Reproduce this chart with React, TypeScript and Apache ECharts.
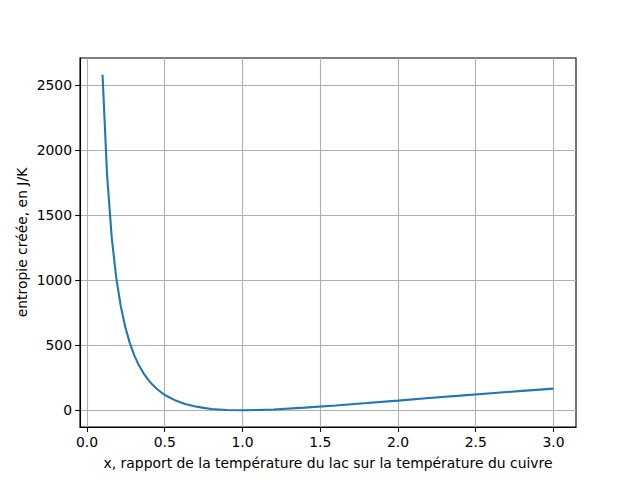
import React, { useEffect, useRef } from "react";
import * as echarts from "echarts";

const xValues = [0.1, 0.129, 0.159, 0.188, 0.217, 0.246, 0.276, 0.305, 0.334, 0.364, 0.393, 0.422, 0.452, 0.481, 0.51, 0.57, 0.63, 0.69, 0.75, 0.8, 0.9, 1.0, 1.1, 1.2, 1.4, 1.6, 1.8, 2.0, 2.2, 2.4, 2.6, 2.8, 3.0];
const entropyValues = [2578, 1811, 1328, 1019, 801, 640, 514, 420, 345, 284, 235, 195, 161, 134, 111, 74, 48, 30, 18, 10, 2, 0, 2, 6, 20, 37, 55, 74, 94, 112, 131, 149, 166];
const xTicks = [0, 0.5, 1.0, 1.5, 2.0, 2.5, 3.0];
const yTicks = [0, 500, 1000, 1500, 2000, 2500];
const xLabel = "x, rapport de la température du lac sur la température du cuivre";
const yLabel = "entropie créée, en J/K";

const FONT = "DejaVu Sans";
const FS = 13.9;

export default function App() {
  const ref = useRef<HTMLDivElement>(null);
  useEffect(() => {
    document.body.style.margin = "0";
    const chart = echarts.init(ref.current!, null, { renderer: "svg" });
    const axisCommon = {
      axisLine: { show: true, onZero: false, lineStyle: { color: "#000", width: 1.1 } },
      axisTick: { show: true, inside: false, length: 4.9, lineStyle: { color: "#000", width: 1.1 } },
      splitLine: { show: true, lineStyle: { color: "#b0b0b0", width: 1.1 } },
      nameTextStyle: { fontFamily: FONT, fontSize: FS, color: "#000" },
      nameMoveOverlap: false,
    };
    chart.setOption({
      animation: false,
      backgroundColor: "#fff",
      grid: { left: 80, right: 64, top: 58, bottom: 53, show: true, borderColor: "#000", borderWidth: 1.1, backgroundColor: "transparent" },
      xAxis: {
        type: "value",
        min: -0.045,
        max: 3.145,
        ...axisCommon,
        axisTick: { ...axisCommon.axisTick, customValues: xTicks },
        axisLabel: {
          customValues: xTicks,
          formatter: (v: number) => v.toFixed(1),
          fontFamily: FONT, fontSize: FS, color: "#000", margin: 8,
        },
        name: xLabel,
        nameLocation: "middle",
        nameGap: 29,
      },
      yAxis: {
        type: "value",
        min: -128.9,
        max: 2707,
        ...axisCommon,
        axisTick: { ...axisCommon.axisTick, customValues: yTicks },
        axisLabel: {
          customValues: yTicks,
          formatter: (v: number) => String(v),
          fontFamily: FONT, fontSize: FS, color: "#000", margin: 8,
        },
        name: yLabel,
        nameLocation: "middle",
        nameGap: 51,
      },
      series: [
        {
          type: "line",
          data: xValues.map((x, i) => [x, entropyValues[i]]),
          showSymbol: false,
          smooth: false,
          lineStyle: { color: "#1f77b4", width: 2.08 },
        },
      ],
    });
    return () => chart.dispose();
  }, []);
  return <div ref={ref} style={{ width: 640, height: 480 }} />;
}
